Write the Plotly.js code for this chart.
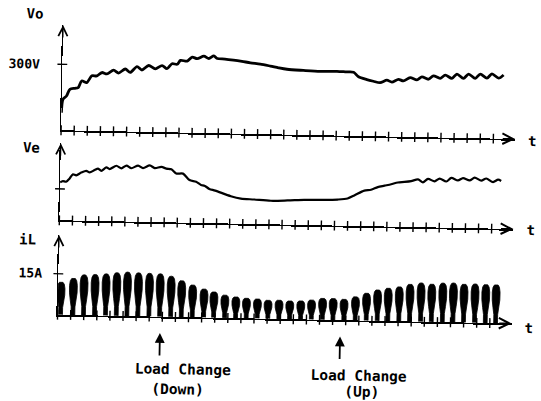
<!DOCTYPE html>
<html><head><meta charset="utf-8">
<script src="https://cdn.plot.ly/plotly-3.0.1.min.js"></script>
<style>
html,body{margin:0;padding:0;background:#fff;overflow:hidden;width:541px;height:401px;}
#chart{width:541px;height:401px;transform:rotate(1.1deg);transform-origin:270.5px 200.5px;}
</style></head><body><div id="chart"></div>
<script>
// ---- data (time in grid divisions) ----
const voT = [0.00,0.10,0.36,0.61,0.99,1.24,1.50,1.89,2.27,2.65,3.03,3.41,3.92,4.30,4.81,5.19,5.70,6.08,6.59,7.10,7.61,7.99,8.37,8.76,9.01,9.52,9.90,10.28,10.79,11.17,11.55,11.81,12.40,13.05,13.70,14.35,15.10,15.88,16.50,17.15,18.40,19.69,20.97,21.70,22.24,22.62,23.26,23.76,24.27,24.79,25.17,25.67,26.05,26.56,27.08,27.46,27.96,28.34,28.85,29.24,29.75,30.13,30.63,31.02,31.53,31.91,32.42,32.80,33.31,33.69];
const voV = [80,141,156,187,192,195,226,219,250,250,266,260,278,265,284,269,296,281,302,287,303,289,312,310,328,325,344,337,349,339,351,340,338,334,329,323,318,310,303,297,293,290,292,290,289,269,257,250,244,256,248,261,254,270,260,274,264,280,269,284,270,290,271,291,272,292,274,294,275,290];

const veT = [0.00,0.21,0.46,0.71,0.97,1.22,1.60,1.98,2.24,2.62,2.88,3.13,3.51,3.76,4.27,4.66,5.04,5.42,5.93,6.31,6.82,7.20,7.71,8.09,8.47,8.85,9.37,9.87,10.38,10.76,11.02,11.40,11.85,13.05,13.82,14.83,16.11,17.38,18.65,19.92,21.20,21.96,22.47,23.23,23.74,24.25,24.76,25.27,25.78,26.28,26.79,27.31,27.69,28.07,28.58,28.96,29.47,29.85,30.36,30.74,31.25,31.63,32.14,32.52,33.04,33.42,33.66];
const veV = [1.21,1.25,1.23,1.33,1.47,1.44,1.53,1.59,1.54,1.62,1.67,1.60,1.71,1.66,1.77,1.69,1.78,1.70,1.79,1.71,1.80,1.72,1.76,1.71,1.69,1.56,1.56,1.36,1.31,1.21,1.19,1.09,1.04,0.87,0.80,0.78,0.75,0.77,0.80,0.81,0.83,0.87,0.97,1.13,1.16,1.25,1.30,1.35,1.41,1.43,1.46,1.52,1.43,1.54,1.47,1.56,1.47,1.59,1.51,1.59,1.52,1.61,1.52,1.59,1.48,1.56,1.52];

const ilT = [0.23,1.17,1.98,2.82,3.66,4.48,5.29,6.13,6.97,7.79,8.63,9.44,10.28,11.15,11.91,12.75,13.59,14.40,15.24,16.05,16.89,17.71,18.55,19.37,20.21,21.02,21.85,22.72,23.56,24.40,25.21,26.05,26.87,27.71,28.53,29.37,30.18,30.99,31.83,32.65,33.44];
const ilPeak = [12.0,13.5,14.8,15.0,15.3,15.8,16.1,15.9,15.8,15.7,14.9,13.4,11.9,10.5,9.5,8.4,7.8,7.4,7.2,6.8,6.9,6.7,6.8,7.2,7.9,7.9,7.7,8.7,10.1,11.4,12.1,12.7,13.7,14.2,13.9,14.3,14.4,14.1,14.2,14.1,14.1];

const gridT = [0,1,2,3,4,5,6,7,8,9,10,11,12,13,14,15,16,17,18,19,20,21,22,23,24,25,26,27,28,29,30,31,32,33];
const voTickVals = [300], voTickText = ['300V'];
const veTickVals = [1];
const ilTickVals = [15], ilTickText = ['15A'];
const panelLabels = ['Vo','Ve','iL'];
const loadChangeT = [7.84, 21.59];
const loadChangeLabel = ['Load Change','Load Change'];
const loadChangeDir = ['(Down)','(Up)'];

// ---- layout constants ----
const INK = '#000';
const FONT = {family:'DejaVu Sans Mono, Liberation Mono, monospace', color:INK, weight:700};
const xDom = [0.1105, 0.9501];
const xRange = [0, 34.67];
const pxPerT = 13.1;
const yDoms = [[0.6651,0.9277],[0.4406,0.6327],[0.2050,0.4040]];
const yRanges = [[0,478.6],[0,2.452],[0,29.2]];

// iL bump outline (px offsets, fraction of peak)
const bump = [[-1.9,0],[-1.9,0.22],[-2.9,0.40],[-3.8,0.60],[-3.9,0.80],[-3.2,0.93],[-1.8,0.99],[0,1.0],[1.8,0.99],[3.2,0.93],[3.9,0.80],[3.8,0.60],[2.9,0.40],[1.9,0.22],[1.9,0]];
const bx = [], by = [];
ilT.forEach((t,i)=>{
  bump.forEach(([dx,f])=>{bx.push(t+dx/pxPerT); by.push(f*ilPeak[i]);});
  bx.push(null); by.push(null);
});

const traces = [
  {x:voT, y:voV, xaxis:'x', yaxis:'y', mode:'lines', line:{color:INK,width:2.8,shape:'spline',smoothing:0.8}},
  {x:veT, y:veV, xaxis:'x2', yaxis:'y2', mode:'lines', line:{color:INK,width:2.2,shape:'spline',smoothing:0.8}},
  {x:bx, y:by, xaxis:'x3', yaxis:'y3', mode:'lines', fill:'toself', fillcolor:INK, line:{color:INK,width:0.8}},
];
// cross ticks on time axes
['','2','3'].forEach(s=>{
  traces.push({x:gridT, y:gridT.map(()=>0), xaxis:'x'+s, yaxis:'y'+s, mode:'markers', cliponaxis:false,
    marker:{symbol:'line-ns', size:7, line:{color:INK,width:1.4}}});
});
// cross ticks on value axes
[[voTickVals,''],[veTickVals,'2'],[ilTickVals,'3']].forEach(([v,s])=>{
  traces.push({x:v.map(()=>0), y:v, xaxis:'x'+s, yaxis:'y'+s, mode:'markers', cliponaxis:false,
    marker:{symbol:'line-ew', size:7, line:{color:INK,width:1.4}}});
});

const layout = {
  width:541, height:401, margin:{l:0,r:0,t:0,b:0},
  paper_bgcolor:'#fff', plot_bgcolor:'rgba(0,0,0,0)', showlegend:false,
  font:FONT,
  annotations:[]
};
['','2','3'].forEach((s,i)=>{
  layout['xaxis'+s] = {domain:xDom, range:xRange, anchor:'y'+s, showline:true, linecolor:INK, linewidth:1.8,
    showgrid:false, zeroline:false, showticklabels:false, ticks:''};
  layout['yaxis'+s] = {domain:yDoms[i], range:yRanges[i], anchor:'x'+s, showline:true, linecolor:INK, linewidth:1.2,
    showgrid:false, zeroline:false, showticklabels:false, ticks:''};
  const xr = 'x'+s, yr = 'y'+s;
  layout.annotations.push({xref:xr, yref:yr, x:xRange[1], y:0, ax:-14, ay:0, text:'', showarrow:true,
    arrowhead:5, arrowsize:1.3, arrowwidth:1.6, arrowcolor:INK});
  layout.annotations.push({xref:xr, yref:yr, x:0, y:yRanges[i][1], ax:0, ay:14, text:'', showarrow:true,
    arrowhead:5, arrowsize:1.5, arrowwidth:1.2, arrowcolor:INK});
});
const A = layout.annotations;
const txt = (text,x,y,size,extra)=>Object.assign({xref:'paper',yref:'paper',x:x,y:y,text:text,showarrow:false,
  xanchor:'center',yanchor:'middle',font:Object.assign({},FONT,{size:size})},extra||{});
A.push(txt(panelLabels[0],0.058,0.9539,14));
A.push(txt(panelLabels[1],0.0555,0.6219,14));
A.push(txt(panelLabels[2],0.0530,0.3923,14));
[0.6609,0.4389,0.1945].forEach(y=>A.push(txt('t',0.9815,y,14)));
A.push(txt(voTickText[0],0.0728,0.8299,13,{xanchor:'right'}));
A.push(txt(ilTickText[0],0.0858,0.3077,13,{xanchor:'right'}));
// load change markers
loadChangeT.forEach(t=>{
  A.push({xref:'x3',yref:'paper',x:t,y:0.1643,ax:0,ay:24,text:'',showarrow:true,arrowhead:2,arrowsize:1.1,arrowwidth:1.8,arrowcolor:INK});
});
A.push(txt(loadChangeLabel[0],0.3432,0.0756,14.5));
A.push(txt(loadChangeDir[0],0.3348,0.0240,14.5));
A.push(txt(loadChangeLabel[1],0.6699,0.0666,14.5));
A.push(txt(loadChangeDir[1],0.6762,0.0270,14.5));

Plotly.newPlot('chart', traces, layout, {staticPlot:true, displayModeBar:false});
</script></body></html>
